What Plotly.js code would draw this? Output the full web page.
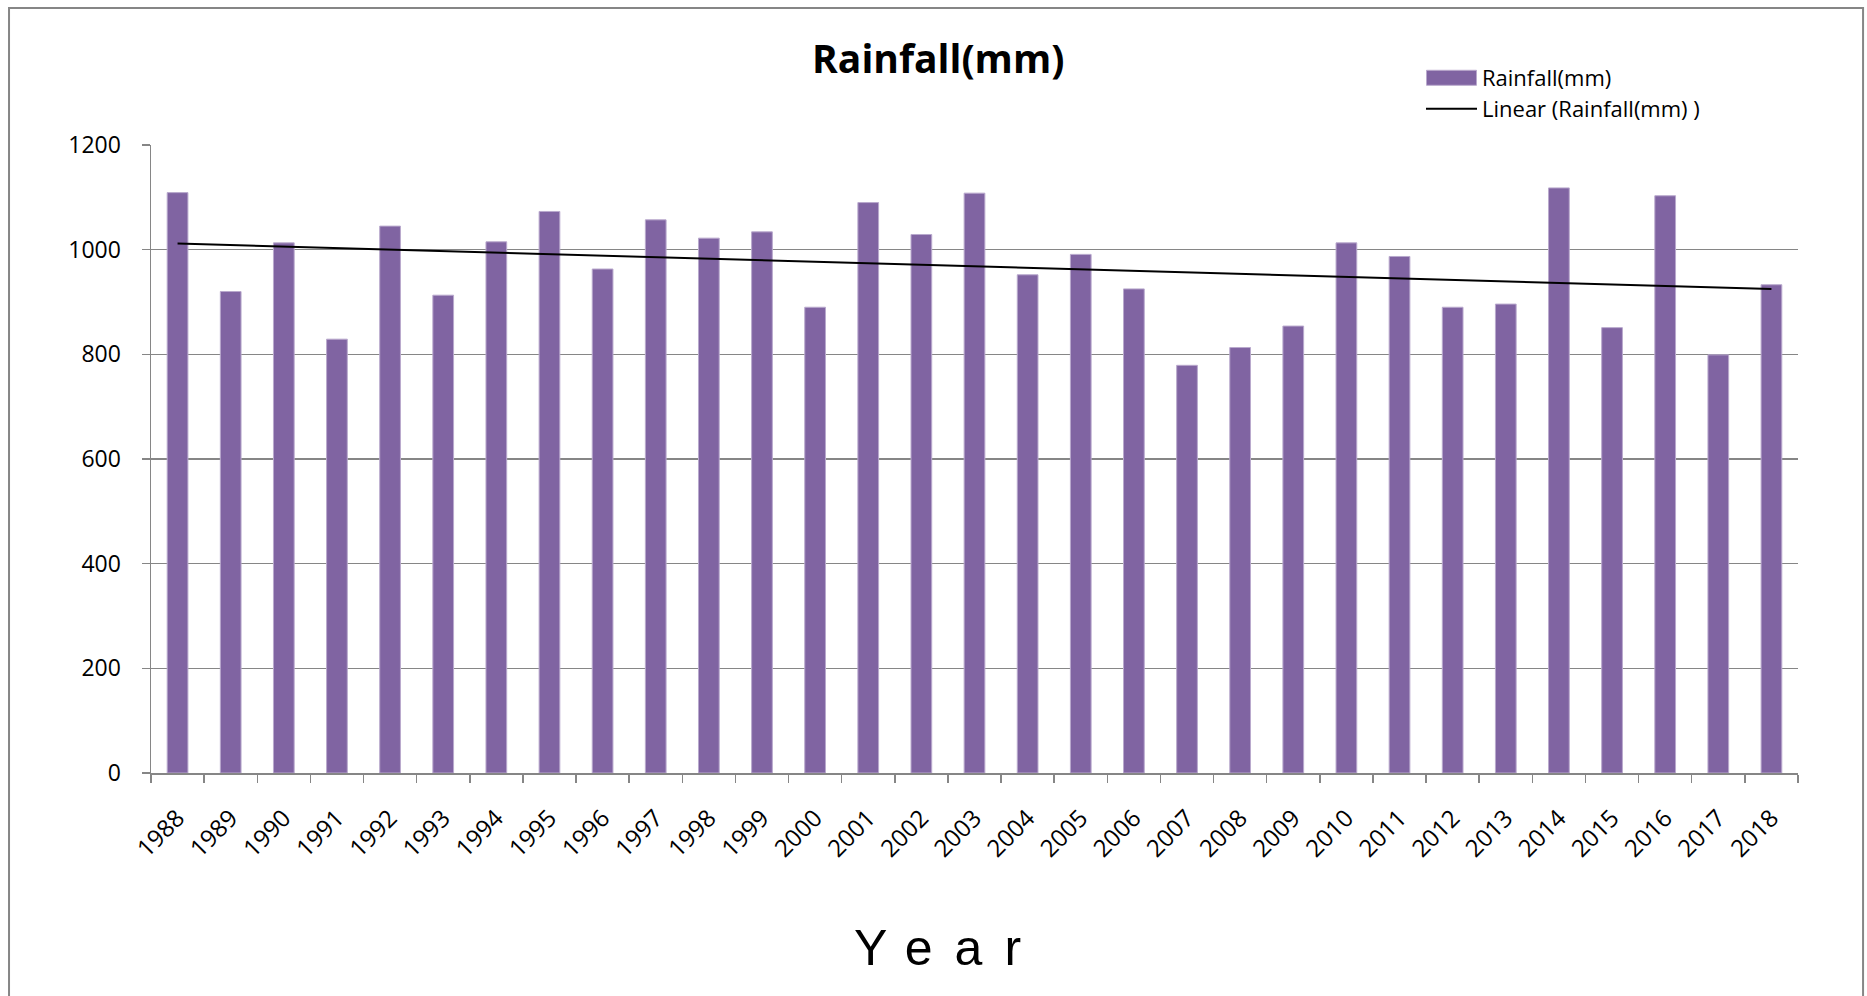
<!DOCTYPE html>
<html>
<head>
<meta charset="utf-8">
<script src="https://cdn.plot.ly/plotly-3.0.1.min.js"></script>
<style>
  html, body { margin: 0; padding: 0; background: #ffffff; }
  #chart { width: 1867px; height: 996px; }
  .annotation-text { letter-spacing: 22px; }
</style>
</head>
<body>
<div id="chart"></div>
<script>
// ---- data ----
const years = ["1988","1989","1990","1991","1992","1993","1994","1995","1996","1997",
               "1998","1999","2000","2001","2002","2003","2004","2005","2006","2007",
               "2008","2009","2010","2011","2012","2013","2014","2015","2016","2017","2018"];
const rainfall = [1109, 920, 1013, 829, 1045, 913, 1015, 1073, 963, 1057,
                  1022, 1034, 890, 1090, 1029, 1108, 952, 991, 925, 779,
                  813, 854, 1013, 987, 890, 896, 1118, 851, 1103, 799, 933];
const yTicks = [0, 200, 400, 600, 800, 1000, 1200];
const chartTitle = "Rainfall(mm)";
const xTitle = "Year";
const barName = "Rainfall(mm)";
const trendName = "Linear (Rainfall(mm) )";

// ---- linear trendline (least squares over category index) ----
const n = rainfall.length;
const idx = rainfall.map((_, i) => i + 1);
const mx = idx.reduce((a, b) => a + b, 0) / n;
const my = rainfall.reduce((a, b) => a + b, 0) / n;
let sxy = 0, sxx = 0;
for (let i = 0; i < n; i++) { sxy += (idx[i] - mx) * (rainfall[i] - my); sxx += (idx[i] - mx) ** 2; }
const slope = sxy / sxx;
const intercept = my - slope * mx;
const trend = idx.map(x => intercept + slope * x);

const gray = "#868686";
const font = "Open Sans, Liberation Sans, Arial, sans-serif";

const traces = [
  {
    type: "bar",
    name: barName,
    x: years,
    y: rainfall,
    legend: "legend",
    marker: { color: "#8064A2", line: { color: "#B9A9CD", width: 1 } },
    hoverinfo: "x+y"
  },
  {
    type: "scatter",
    mode: "lines",
    name: trendName,
    x: years,
    y: trend,
    legend: "legend2",
    line: { color: "#000000", width: 2 },
    hoverinfo: "skip"
  }
];

const legendCommon = {
  x: 0.7711, xanchor: "left",
  yanchor: "middle",
  font: { family: font, size: 22, color: "#000000" },
  bgcolor: "rgba(0,0,0,0)",
  itemwidth: 51
};

const layout = {
  width: 1867,
  height: 996,
  paper_bgcolor: "#ffffff",
  plot_bgcolor: "#ffffff",
  margin: { l: 151, r: 69, t: 145, b: 223, pad: 0 },
  bargap: 0.61,
  showlegend: true,
  title: {
    text: chartTitle,
    font: { family: font, size: 39, color: "#000000", weight: "bold" },
    xref: "paper", x: 0.478, xanchor: "center",
    yref: "container", y: 0.940, yanchor: "middle"
  },
  legend: Object.assign({}, legendCommon, { y: 1.1067 }),
  legend2: Object.assign({}, legendCommon, { y: 1.0573 }),
  xaxis: {
    type: "category",
    range: [-0.5, years.length - 0.5],
    tickson: "boundaries",
    ticks: "outside",
    ticklen: 8,
    tickwidth: 1.5,
    tickcolor: gray,
    showline: true,
    linecolor: gray,
    linewidth: 1.5,
    showgrid: false,
    zeroline: false,
    tickangle: -45,
    tickfont: { family: font, size: 24, color: "#000000" },
    ticklabelstandoff: 20,
    fixedrange: true
  },
  yaxis: {
    range: [0, 1200],
    tickmode: "array",
    tickvals: yTicks,
    ticktext: yTicks.map(String),
    ticks: "outside",
    ticklen: 8,
    tickwidth: 1.5,
    tickcolor: gray,
    showline: true,
    linecolor: gray,
    linewidth: 1.5,
    showgrid: true,
    gridcolor: gray,
    gridwidth: 1.5,
    zeroline: false,
    tickfont: { family: font, size: 23, color: "#000000" },
    ticklabelstandoff: 16,
    fixedrange: true
  },
  annotations: [
    {
      text: xTitle,
      xref: "paper", yref: "paper",
      x: 0.4845, y: -0.278,
      xanchor: "center", yanchor: "middle",
      showarrow: false,
      font: { family: "Liberation Sans, Arial, sans-serif", size: 50, color: "#000000" }
    }
  ],
  shapes: [
    {
      type: "rect", xref: "paper", yref: "paper",
      x0: -0.0862, x1: 1.0395, y0: -0.37, y1: 1.218,
      line: { color: gray, width: 2 }, fillcolor: "rgba(0,0,0,0)", layer: "below"
    }
  ]
};

const gd = document.getElementById("chart");

// widen the bar legend swatch into an Excel-style rectangle
function widenBarSwatch() {
  gd.querySelectorAll("g.legendpoints path").forEach(p => {
    const d = p.getAttribute("d") || "";
    const isBar = p.classList.contains("legendbar") || /^M6,6H-6V-6H6Z$/.test(d.replace(/\s/g, ""));
    if (isBar) p.setAttribute("d", "M25,7.5H-25V-7.5H25Z");
  });
}

Plotly.newPlot(gd, traces, layout, { staticPlot: true, displayModeBar: false }).then(() => {
  widenBarSwatch();
  setTimeout(widenBarSwatch, 0);
  setTimeout(widenBarSwatch, 100);
});
gd.on && gd.on("plotly_afterplot", widenBarSwatch);
</script>
</body>
</html>
